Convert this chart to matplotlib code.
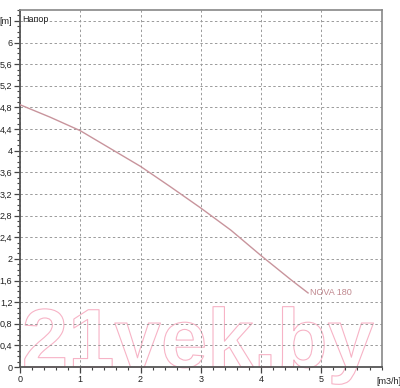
import matplotlib
matplotlib.use("Agg")
import matplotlib.pyplot as plt
import matplotlib.patheffects as pe
from matplotlib.ticker import MultipleLocator, FixedLocator

plt.rcParams['font.family'] = ['Liberation Sans', 'DejaVu Sans']

flow = [0, 0.5, 1.0, 1.5, 2.0, 2.5, 3.0, 3.5, 4.0, 4.5, 4.78]
head = [4.85, 4.62, 4.37, 4.04, 3.71, 3.33, 2.94, 2.53, 2.06, 1.61, 1.37]
series_name = "NOVA 180"
y_ticks = [0, 0.4, 0.8, 1.2, 1.6, 2, 2.4, 2.8, 3.2, 3.6, 4, 4.4, 4.8, 5.2, 5.6, 6, 6.4]
y_labels = ["0", "0,4", "0,8", "1,2", "1,6", "2", "2,4", "2,8", "3,2", "3,6", "4",
            "4,4", "4,8", "5,2", "5,6", "6", "[m]"]
x_ticks = [0, 1, 2, 3, 4, 5]
x_labels = ["0", "1", "2", "3", "4", "5"]

fig = plt.figure(figsize=(4.0, 3.88), dpi=100)
ax = fig.add_axes([0.05, 0.054, 0.904, 0.92])
ax.set_xlim(0, 6)
ax.set_ylim(0, 6.6)

# watermark (outlined text)
wm = ax.text(0.03, 0.0, "21vek.by", fontsize=60, fontweight='bold',
             color='none', ha='left', va='baseline', zorder=0)
wm.set_path_effects([pe.withStroke(linewidth=0.8, foreground='#f7b3c6'), pe.Normal()])
wm.set_clip_on(False)

ax.plot(flow, head, color='#c8949c', lw=1.0, zorder=3)
ax.text(flow[-1] + 0.03, head[-1], series_name, color='#c0888f', fontsize=6.5,
        ha='left', va='center')

ax.text(0.04, 6.42, "Напор", fontsize=6.5, ha='left', va='center', color='#222222')

ax.yaxis.set_major_locator(FixedLocator(y_ticks))
ax.set_yticklabels(y_labels)
ax.yaxis.set_minor_locator(MultipleLocator(0.1))
ax.xaxis.set_major_locator(FixedLocator(x_ticks))
ax.set_xticklabels(x_labels)
ax.xaxis.set_minor_locator(MultipleLocator(0.2))

ax.tick_params(axis='both', which='major', direction='out', length=4, width=0.9,
               color='#444444', labelsize=6.5, pad=1.5, labelcolor='#222222')
ax.tick_params(axis='both', which='minor', direction='out', length=2.2, width=0.8,
               color='#444444')

ax.grid(True, which='major', linestyle=(0, (2.5, 2.5)), color='#9a9a9a', lw=0.7)

for s in ['left', 'bottom']:
    ax.spines[s].set_color('#555555')
    ax.spines[s].set_linewidth(1.3)
for s in ['top', 'right']:
    ax.spines[s].set_color('#888888')
    ax.spines[s].set_linewidth(1.2)

fig.text(376/400, 1 - 381/388, "[m3/h]", fontsize=6.5, ha='left', va='center',
         color='#222222')

fig.savefig("out.png", dpi=100)
